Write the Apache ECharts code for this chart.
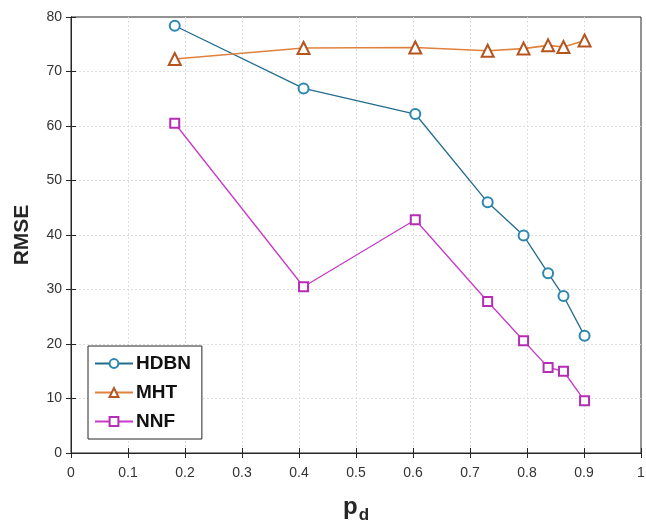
<!DOCTYPE html>
<html><head><meta charset="utf-8">
<script src="https://cdn.jsdelivr.net/npm/echarts@6/dist/echarts.min.js"></script>
<style>html,body{margin:0;padding:0;background:#fff}#c{width:646px;height:523px}</style>
</head><body><div id="c"></div>
<script>
const pd = [0.182, 0.408, 0.604, 0.731, 0.794, 0.837, 0.864, 0.901];
const hdbn = [78.4, 66.9, 62.2, 46.0, 39.9, 33.0, 28.8, 21.5];
const mht = [72.3, 74.3, 74.4, 73.8, 74.2, 74.8, 74.5, 75.7];
const nnf = [60.5, 30.5, 42.8, 27.8, 20.6, 15.7, 15.0, 9.6];
const xTicks = [0, 0.1, 0.2, 0.3, 0.4, 0.5, 0.6, 0.7, 0.8, 0.9, 1];
const yTicks = [0, 10, 20, 30, 40, 50, 60, 70, 80];

const pairs = v => pd.map((x, i) => [x, v[i]]);
const chart = echarts.init(document.getElementById('c'), null, {renderer: 'canvas'});
const font = 'Liberation Sans, Arial, sans-serif';
const dark = '#262626';
chart.setOption({
  animation: false,
  backgroundColor: '#fff',
  textStyle: {fontFamily: font},
  grid: {left: 71, right: 5, top: 17, bottom: 70, outerBoundsMode: 'none', containLabel: false,
    show: true, borderColor: dark, borderWidth: 1},
  xAxis: [{
    type: 'value', min: xTicks[0], max: xTicks[xTicks.length - 1], interval: 0.1,
    axisLine: {show: true, onZero: false, lineStyle: {color: dark}},
    axisTick: {show: true, inside: true, length: 5, lineStyle: {color: dark}},
    axisLabel: {color: '#333', fontSize: 14, margin: 13, formatter: v => String(+v.toFixed(1))},
    splitLine: {show: true, showMinLine: false, showMaxLine: false, lineStyle: {color: '#dedede', type: [2, 2]}},
    name: '{p|p}{d|d}', nameLocation: 'middle', nameGap: 38,
    nameTextStyle: {rich: {
      p: {fontSize: 24, fontWeight: 'bold', color: dark, fontFamily: font},
      d: {fontSize: 17, fontWeight: 'bold', color: dark, fontFamily: font, padding: [16, 0, 0, 1]}
    }}
  }, {
    type: 'value', min: xTicks[0], max: xTicks[xTicks.length - 1], interval: 0.1, position: 'top',
    axisLine: {show: true, lineStyle: {color: dark}},
    axisTick: {show: true, inside: true, length: 5, lineStyle: {color: dark}},
    axisLabel: {show: false}, splitLine: {show: false}
  }],
  yAxis: [{
    type: 'value', min: yTicks[0], max: yTicks[yTicks.length - 1], interval: 10,
    axisLine: {show: true, lineStyle: {color: dark}},
    axisTick: {show: true, inside: true, length: 5, lineStyle: {color: dark}},
    axisLabel: {color: '#333', fontSize: 14, margin: 9},
    splitLine: {show: true, showMinLine: false, showMaxLine: false, lineStyle: {color: '#dedede', type: [2, 2]}},
    name: 'RMSE', nameLocation: 'middle', nameGap: 38, nameRotate: 90,
    nameTextStyle: {fontSize: 21, fontWeight: 'bold', color: dark, fontFamily: font}
  }, {
    type: 'value', min: yTicks[0], max: yTicks[yTicks.length - 1], interval: 10, position: 'right',
    axisLine: {show: true, lineStyle: {color: dark}},
    axisTick: {show: true, inside: true, length: 5, lineStyle: {color: dark}},
    axisLabel: {show: false}, splitLine: {show: false}
  }],
  legend: {
    orient: 'vertical', left: 88, top: 346,
    backgroundColor: '#fff', borderColor: dark, borderWidth: 1,
    padding: [8, 11, 8, 6], itemGap: 10, itemWidth: 38, itemHeight: 11,
    textStyle: {fontSize: 19, fontWeight: 'bold', color: '#111', fontFamily: font, padding: [0, 0, 0, -2]},
    data: ['HDBN', 'MHT', 'NNF']
  },
  series: [{
    name: 'HDBN', type: 'line', data: pairs(hdbn),
    symbol: 'emptyCircle', symbolSize: 10,
    lineStyle: {color: '#236c8c', width: 1.3},
    itemStyle: {color: '#2b86b0', borderColor: '#2b86b0', borderWidth: 1.3}
  }, {
    name: 'MHT', type: 'line', data: pairs(mht),
    symbol: 'emptyTriangle', symbolSize: 12,
    lineStyle: {color: '#e0823e', width: 1.6},
    itemStyle: {color: '#b5541e', borderColor: '#b5541e', borderWidth: 1.3}
  }, {
    name: 'NNF', type: 'line', data: pairs(nnf),
    symbol: 'emptyRect', symbolSize: 9,
    lineStyle: {color: '#c83ac8', width: 1.3},
    itemStyle: {color: '#b52cb5', borderColor: '#b52cb5', borderWidth: 1.3}
  }]
});
</script></body></html>
